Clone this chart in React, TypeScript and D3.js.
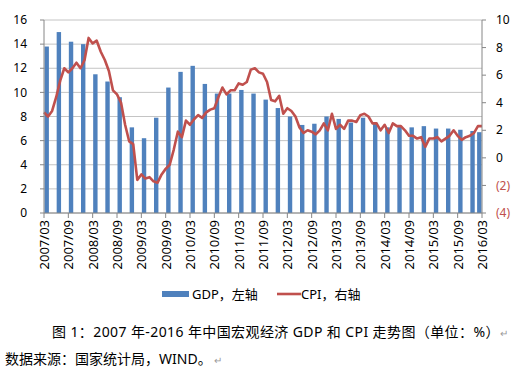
import React from "react";
import { scalePoint, scaleLinear, line, range } from "d3";

// months shown on the axis, 2007/03 .. 2016/03
const months: string[] = [];
for (let y = 2007; y <= 2016; y++) {
  for (let m = 1; m <= 12; m++) {
    if ((y === 2007 && m < 3) || (y === 2016 && m > 3)) continue;
    months.push(`${y}/${String(m).padStart(2, "0")}`);
  }
}

// quarterly GDP growth (left axis)
const gdpQuarters = [
  "2007/03", "2007/06", "2007/09", "2007/12",
  "2008/03", "2008/06", "2008/09", "2008/12",
  "2009/03", "2009/06", "2009/09", "2009/12",
  "2010/03", "2010/06", "2010/09", "2010/12",
  "2011/03", "2011/06", "2011/09", "2011/12",
  "2012/03", "2012/06", "2012/09", "2012/12",
  "2013/03", "2013/06", "2013/09", "2013/12",
  "2014/03", "2014/06", "2014/09", "2014/12",
  "2015/03", "2015/06", "2015/09", "2015/12",
  "2016/03",
];
const gdpValues = [
  13.8, 15.0, 14.2, 14.0,
  11.5, 10.9, 9.6, 7.1,
  6.2, 7.9, 10.4, 11.7,
  12.2, 10.7, 9.9, 9.9,
  10.2, 9.9, 9.4, 8.7,
  8.0, 7.3, 7.4, 8.0,
  7.8, 7.5, 7.9, 7.5,
  7.1, 7.2, 7.1, 7.2,
  7.0, 7.0, 6.9, 6.8,
  6.7,
];

// monthly CPI (right axis), 2007/03 .. 2016/03
const cpiValues = [
  3.3, 3.0, 3.4, 4.4, 5.6, 6.5, 6.2, 6.5, 6.9, 6.5,
  7.1, 8.7, 8.3, 8.5, 7.7, 7.1, 6.3, 4.9, 4.6, 4.0, 2.4, 1.2,
  1.0, -1.6, -1.2, -1.5, -1.4, -1.7, -1.8, -1.2, -0.8, -0.5, 0.6, 1.9,
  1.5, 2.7, 2.4, 2.8, 3.1, 2.9, 3.3, 3.5, 3.6, 4.4, 5.1, 4.6,
  4.9, 4.9, 5.4, 5.3, 5.5, 6.4, 6.5, 6.2, 6.1, 5.5, 4.2, 4.1,
  4.5, 3.2, 3.6, 3.4, 3.0, 2.2, 1.8, 2.0, 1.9, 1.7, 2.0, 2.5,
  2.0, 3.2, 2.1, 2.4, 2.1, 2.7, 2.7, 2.6, 3.1, 3.2, 3.0, 2.5,
  2.5, 2.0, 2.4, 1.8, 2.5, 2.3, 2.3, 2.0, 1.6, 1.6, 1.4, 1.5,
  0.8, 1.4, 1.4, 1.5, 1.2, 1.4, 1.6, 2.0, 1.6, 1.3, 1.5, 1.6,
  1.8, 2.3, 2.3,
];

const leftTicks = range(0, 17, 2);
const rightTicks = range(-4, 11, 2);
const xLabels = months.filter((_, i) => i % 6 === 0);

const W = 521;
const H = 385;
const left = 44;
const right = 482;
const top = 20;
const bottom = 213;
const FONT = "'Noto Sans', 'Noto Sans CJK SC', sans-serif";
const BLUE = "#4f81bd";
const RED = "#c0504d";
const AXIS = "#868686";
const GRID = "#c4c4c4";

export default function App() {
  const x = scalePoint<string>().domain(months).range([left, right]);
  const yL = scaleLinear().domain([0, 16]).range([bottom, top]);
  const yR = scaleLinear().domain([-4, 10]).range([bottom, top]);
  const barW = 4.4;

  const cpiLine = line<number>()
    .x((_, i) => x(months[i]) as number)
    .y((d) => yR(d));

  const fmtR = (v: number) => (v < 0 ? `(${-v})` : `${v}`);

  return (
    <svg
      width={W}
      height={H}
      style={{ position: "absolute", left: 0, top: 0, background: "#fff" }}
      fontFamily={FONT}
    >
      <rect width={W} height={H} fill="#fff" />
      {/* gridlines */}
      {leftTicks.map((t) => (
        <line key={`g${t}`} x1={left} x2={right} y1={yL(t)} y2={yL(t)} stroke={GRID} strokeWidth={1} />
      ))}

      {/* bars */}
      {gdpValues.map((v, i) => {
        const bx = Math.min((x(gdpQuarters[i]) as number) + 0.5, right - barW - 0.5);
        return (
          <rect key={`b${i}`} x={bx} y={yL(v)} width={barW} height={bottom - yL(v)} fill={BLUE} />
        );
      })}

      {/* CPI */}
      <path d={cpiLine(cpiValues) || ""} fill="none" stroke={RED} strokeWidth={2.6} strokeLinejoin="round" />

      {/* left axis */}
      <line x1={left} x2={left} y1={top} y2={bottom} stroke={AXIS} />
      {leftTicks.map((t) => (
        <g key={`l${t}`}>
          <line x1={left - 4} x2={left} y1={yL(t)} y2={yL(t)} stroke={AXIS} />
          <text x={27} y={yL(t)} dy="0.35em" textAnchor="end" fontSize={12} fill="#000">
            {t}
          </text>
        </g>
      ))}

      {/* right axis */}
      <line x1={right} x2={right} y1={top} y2={bottom} stroke={AXIS} />
      {rightTicks.map((t) => (
        <g key={`r${t}`}>
          <line x1={right} x2={right + 4} y1={yR(t)} y2={yR(t)} stroke={AXIS} />
          <text x={496} y={yR(t)} dy="0.35em" fontSize={12} fill={t < 0 ? RED : "#000"}>
            {fmtR(t)}
          </text>
        </g>
      ))}

      {/* bottom axis */}
      <line x1={left} x2={right} y1={bottom} y2={bottom} stroke={AXIS} />
      {xLabels.map((m) => {
        const px = x(m) as number;
        return (
          <g key={`x${m}`}>
            <line x1={px} x2={px} y1={bottom} y2={bottom + 5} stroke={AXIS} />
            <text
              transform={`translate(${px + 0.5},${bottom + 7}) rotate(-90)`}
              textAnchor="end"
              dy="0.35em"
              fontSize={13}
              fill="#000"
            >
              {m}
            </text>
          </g>
        );
      })}

      {/* legend */}
      <rect x={162} y={291} width={27} height={6} fill={BLUE} />
      <text x={192} y={294} dy="0.35em" fontSize={13} fill="#000">GDP，左轴</text>
      <line x1={277} x2={301} y1={294} y2={294} stroke={RED} strokeWidth={2.6} />
      <text x={301} y={294} dy="0.35em" fontSize={13} fill="#000">CPI，右轴</text>

      {/* caption */}
      <text x={52} y={332} dy="0.35em" fontSize={14} letterSpacing={0.4} fill="#000">
        图 1：2007 年-2016 年中国宏观经济 GDP 和 CPI 走势图（单位：%）
        <tspan fill="#9a9a9a" fontSize={10} dx={0}>↵</tspan>
      </text>
      <text x={5} y={359} dy="0.35em" fontSize={14} fill="#000">
        数据来源：国家统计局，WIND。
        <tspan fill="#9a9a9a" fontSize={10} dx={2}>↵</tspan>
      </text>
    </svg>
  );
}
